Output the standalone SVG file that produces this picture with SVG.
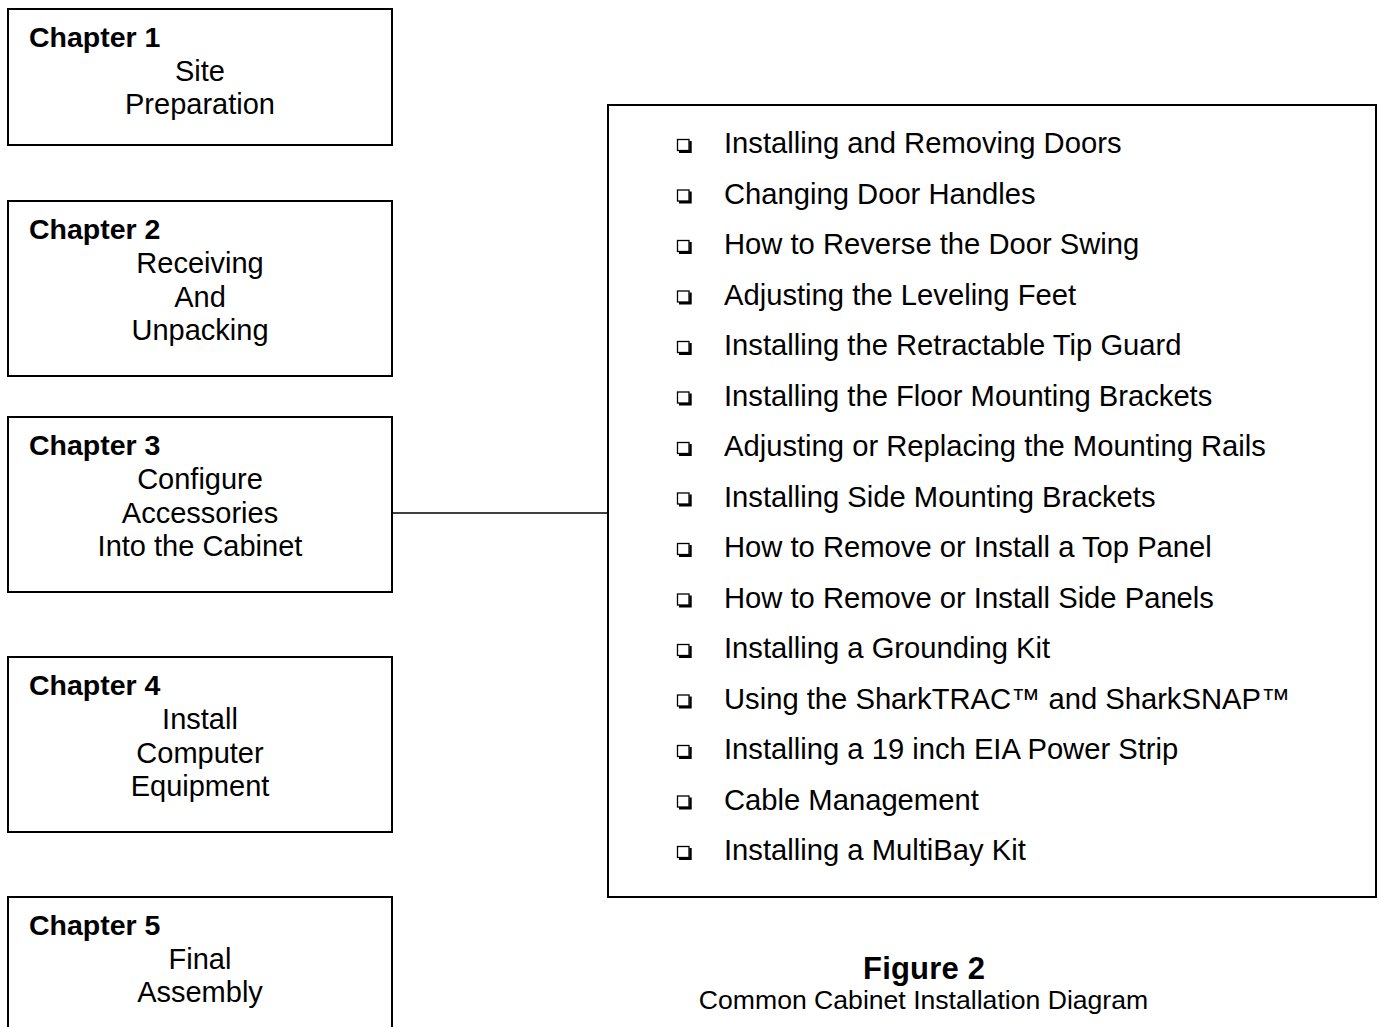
<svg xmlns="http://www.w3.org/2000/svg" width="1379" height="1027" viewBox="0 0 1379 1027">
<style>
.box{fill:#fff;stroke:#000;stroke-width:2}
.h{font-family:"Liberation Sans",Arial,sans-serif;font-weight:bold;font-size:28.5px;fill:#000}
.t{font-family:"Liberation Sans",Arial,sans-serif;font-size:29px;fill:#000;text-anchor:middle}
.li{font-family:"Liberation Sans",Arial,sans-serif;font-size:29.2px;fill:#000}
.line{stroke:#000;stroke-width:1.6;fill:none}
</style>
<defs>
<g id="cb">
<rect x="0" y="0" width="11.5" height="11" fill="#fff" stroke="#000" stroke-width="1.3"/>
<path d="M1.5 12.3 H13 V1.5" fill="none" stroke="#000" stroke-width="2.4"/>
</g>
</defs>
<rect width="1379" height="1027" fill="#fff"/>
<g id="connectors">
<line class="line" x1="392" y1="513" x2="608" y2="513"/>
</g>
<g id="ch1">
<rect class="box" x="8" y="9" width="384" height="136"/>
<text class="h" x="29" y="47">Chapter 1</text>
<text class="t" x="200" y="81">Site</text>
<text class="t" x="200" y="114">Preparation</text>
</g>
<g id="ch2">
<rect class="box" x="8" y="201" width="384" height="175"/>
<text class="h" x="29" y="239">Chapter 2</text>
<text class="t" x="200" y="273">Receiving</text>
<text class="t" x="200" y="307">And</text>
<text class="t" x="200" y="340">Unpacking</text>
</g>
<g id="ch3">
<rect class="box" x="8" y="417" width="384" height="175"/>
<text class="h" x="29" y="455">Chapter 3</text>
<text class="t" x="200" y="489">Configure</text>
<text class="t" x="200" y="523">Accessories</text>
<text class="t" x="200" y="556">Into the Cabinet</text>
</g>
<g id="ch4">
<rect class="box" x="8" y="657" width="384" height="175"/>
<text class="h" x="29" y="695">Chapter 4</text>
<text class="t" x="200" y="729">Install</text>
<text class="t" x="200" y="763">Computer</text>
<text class="t" x="200" y="796">Equipment</text>
</g>
<g id="ch5">
<rect class="box" x="8" y="897" width="384" height="160"/>
<text class="h" x="29" y="935">Chapter 5</text>
<text class="t" x="200" y="969">Final</text>
<text class="t" x="200" y="1002">Assembly</text>
</g>
<g id="tasks">
<rect class="box" x="608" y="105" width="768" height="792"/>
<use href="#cb" x="677.5" y="139.5"/><text class="li" x="724" y="153">Installing and Removing Doors</text>
<use href="#cb" x="677.5" y="190"/><text class="li" x="724" y="203.5">Changing Door Handles</text>
<use href="#cb" x="677.5" y="240.5"/><text class="li" x="724" y="254">How to Reverse the Door Swing</text>
<use href="#cb" x="677.5" y="291"/><text class="li" x="724" y="304.5">Adjusting the Leveling Feet</text>
<use href="#cb" x="677.5" y="341.5"/><text class="li" x="724" y="355">Installing the Retractable Tip Guard</text>
<use href="#cb" x="677.5" y="392"/><text class="li" x="724" y="405.5">Installing the Floor Mounting Brackets</text>
<use href="#cb" x="677.5" y="442.5"/><text class="li" x="724" y="456">Adjusting or Replacing the Mounting Rails</text>
<use href="#cb" x="677.5" y="493"/><text class="li" x="724" y="506.5">Installing Side Mounting Brackets</text>
<use href="#cb" x="677.5" y="543.5"/><text class="li" x="724" y="557">How to Remove or Install a Top Panel</text>
<use href="#cb" x="677.5" y="594"/><text class="li" x="724" y="607.5">How to Remove or Install Side Panels</text>
<use href="#cb" x="677.5" y="644.5"/><text class="li" x="724" y="658">Installing a Grounding Kit</text>
<use href="#cb" x="677.5" y="695"/><text class="li" x="724" y="708.5">Using the SharkTRAC™ and SharkSNAP™</text>
<use href="#cb" x="677.5" y="745.5"/><text class="li" x="724" y="759">Installing a 19 inch EIA Power Strip</text>
<use href="#cb" x="677.5" y="796"/><text class="li" x="724" y="809.5">Cable Management</text>
<use href="#cb" x="677.5" y="846.5"/><text class="li" x="724" y="860">Installing a MultiBay Kit</text>
</g>
<g id="caption">
<text x="924" y="979" text-anchor="middle" font-family="'Liberation Sans',Arial,sans-serif" font-weight="bold" font-size="31" textLength="122">Figure 2</text>
<text x="923.5" y="1009" text-anchor="middle" font-family="'Liberation Sans',Arial,sans-serif" font-size="26.6">Common Cabinet Installation Diagram</text>
</g>
</svg>
